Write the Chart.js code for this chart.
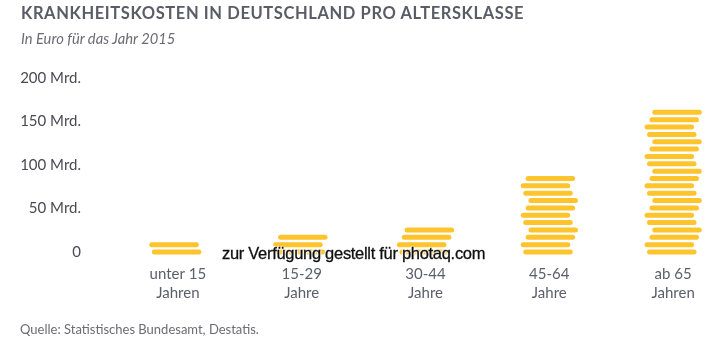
<!DOCTYPE html>
<html lang="de">
<head>
<meta charset="utf-8">
<script src="https://cdn.jsdelivr.net/npm/chart.js@4"></script>
<style>
  html, body { margin: 0; padding: 0; background: #fff; overflow: hidden; width: 720px; height: 349px; }
  .txt { position: absolute; font-family: Lato, "Open Sans", sans-serif; white-space: nowrap; z-index: 2; }
  #title { left: 21px; top: 3px; font-size: 16.5px; font-weight: 700; letter-spacing: 0.6px; color: #5b5c66; }
  #subtitle { left: 21px; top: 29px; font-size: 14.7px; font-style: italic; color: #6b6c74; }
  #source { left: 20px; top: 321px; font-size: 13px; color: #6b6c74; }
  #mark { left: 222px; top: 244px; font-family: "Liberation Sans", Arial, sans-serif; font-size: 16.5px; color: #111;
          -webkit-text-stroke: 0.3px #111;
          text-shadow: 0 0 2px #fff, 0 0 2px #fff, 1px 1px 1px #fff, -1px -1px 1px #fff; letter-spacing: -0.3px; }
  #wrap { position: absolute; left: 0; top: 0; width: 735px; height: 349px; }
</style>
</head>
<body>
<div id="title" class="txt">KRANKHEITSKOSTEN IN DEUTSCHLAND PRO ALTERSKLASSE</div>
<div id="subtitle" class="txt">In Euro für das Jahr 2015</div>
<div id="wrap"><canvas id="costChart"></canvas></div>
<div id="mark" class="txt">zur Verfügung gestellt für photaq.com</div>
<div id="source" class="txt">Quelle: Statistisches Bundesamt, Destatis.</div>
<script>
const ageGroups = [['unter 15', 'Jahren'], ['15-29', 'Jahre'], ['30-44', 'Jahre'], ['45-64', 'Jahre'], ['ab 65', 'Jahren']];
const costs = [12, 20, 29, 87, 164]; // Mrd. Euro, read from the stack heights
const yTicks = [0, 50, 100, 150, 200];

// coin style
const coinColor = '#fec42e';
const coinW = 49.5, coinH = 5, coinPitch = 7.35;
const coinShift = [-1.3, -3.8, 1.1, 3.9];

const coinStacks = {
    id: 'coinStacks',
    afterDatasetsDraw(chart) {
        const ctx = chart.ctx;
        const meta = chart.getDatasetMeta(0);
        ctx.save();
        ctx.fillStyle = coinColor;
        meta.data.forEach(bar => {
            const n = Math.round((bar.base - bar.y + coinH / 2) / coinPitch);
            for (let k = 0; k < n; k++) {
                const cy = bar.base - k * coinPitch;
                const cx = bar.x + coinShift[k % coinShift.length];
                ctx.beginPath();
                ctx.roundRect(cx - coinW / 2, cy - coinH / 2, coinW, coinH, coinH / 2);
                ctx.fill();
            }
        });
        ctx.restore();
    }
};

const ctx = document.getElementById('costChart').getContext('2d');
const costChart = new Chart(ctx, {
    type: 'bar',
    data: {
        labels: ageGroups,
        datasets: [{
            label: 'Krankheitskosten',
            data: costs,
            backgroundColor: 'rgba(0,0,0,0)',
            borderWidth: 0
        }]
    },
    options: {
        responsive: true,
        maintainAspectRatio: false,
        animation: false,
        layout: { padding: { top: 78, left: 20, right: 0, bottom: 34 } },
        scales: {
            x: {
                grid: { display: false, drawTicks: false },
                border: { display: false },
                ticks: {
                    padding: 12,
                    color: '#5c5e6b',
                    font: { family: 'Lato', size: 15, lineHeight: 1.3 }
                }
            },
            y: {
                min: 0,
                max: 200,
                afterFit: (scale) => { scale.width = 96; },
                afterBuildTicks: (scale) => { scale.ticks = yTicks.map(v => ({ value: v })); },
                grid: { display: false, drawTicks: false },
                border: { display: false },
                ticks: {
                    padding: 35,
                    color: '#4a4b52',
                    font: { family: 'Lato', size: 15 },
                    callback: (v) => v === 0 ? '0' : v + ' Mrd.'
                }
            }
        },
        plugins: {
            legend: { display: false },
            tooltip: { enabled: false }
        }
    },
    plugins: [coinStacks]
});
</script>
</body>
</html>
